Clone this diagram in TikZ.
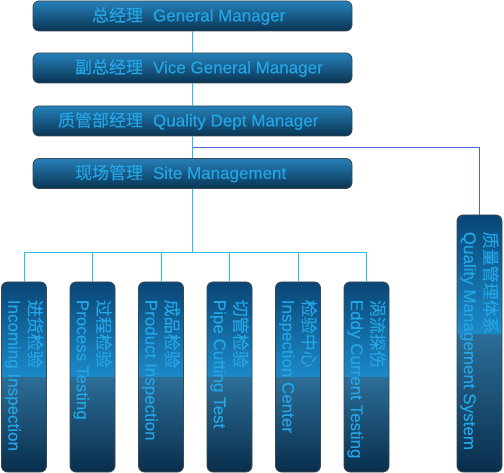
\documentclass[tikz,border=0pt]{standalone}
\usepackage{fontspec}
\setmainfont{Liberation Sans}[FakeBold=0.35]
\newfontfamily\cjk{Noto Sans CJK SC}[FakeBold=0.3]
\usetikzlibrary{calc}

\definecolor{txtblue}{RGB}{36,164,228}
\definecolor{linecyan}{RGB}{40,190,240}
\definecolor{lineblue}{RGB}{70,105,200}
\definecolor{rimgray}{RGB}{60,72,82}
\definecolor{htop}{RGB}{38,128,185}
\definecolor{hmid}{RGB}{14,82,130}
\definecolor{hbot}{RGB}{9,52,82}
\definecolor{vtop}{RGB}{10,70,118}
\definecolor{vmid}{RGB}{28,138,200}
\definecolor{vlow}{RGB}{44,110,152}
\definecolor{vbot}{RGB}{9,46,76}

\pgfdeclareverticalshading{vsplit}{100bp}{color(0bp)=(vbot); color(25bp)=(vbot);
    color(50bp)=(vlow); color(50.01bp)=(vmid); color(75bp)=(vtop); color(100bp)=(vtop)}
\pgfdeclareverticalshading{vsplitlong}{100bp}{color(0bp)=(vbot); color(25bp)=(vbot);
    color(52bp)=(vlow); color(52.01bp)=(vmid); color(75bp)=(vtop); color(100bp)=(vtop)}

\begin{document}
\begin{tikzpicture}[x=1pt,y=-1pt]

\tikzset{hbox/.style={draw=rimgray,line width=0.8pt,rounded corners=6pt,
    minimum width=319pt,minimum height=30pt,inner sep=0pt,
    top color=htop,middle color=hmid,bottom color=hbot,
    text=txtblue,font=\fontsize{17}{20}\selectfont}}
\tikzset{vbx/.style={draw=rimgray,line width=0.8pt,rounded corners=6pt,
    minimum width=45pt,inner sep=0pt,shading=vsplit}}
\tikzset{vtxt/.style={rotate=-90,anchor=west,align=left,inner sep=0pt,
    text=txtblue,font=\fontsize{17}{20.5}\selectfont}}
\tikzset{cline/.style={linecyan,line width=1pt}}

\useasboundingbox (0,0) rectangle (504,473);

\node[hbox] (gm) at (192.5,16) {\makebox[110pt][r]{\cjk 总经理}\hspace{10pt}\makebox[199pt][l]{General Manager}};
\node[hbox] (vgm) at (192.5,68) {\makebox[110pt][r]{\cjk 副总经理}\hspace{10pt}\makebox[199pt][l]{Vice General Manager}};
\node[hbox] (qdm) at (192.5,121) {\makebox[110pt][r]{\cjk 质管部经理}\hspace{10pt}\makebox[199pt][l]{Quality Dept Manager}};
\node[hbox] (site) at (192.5,173.5) {\makebox[110pt][r]{\cjk 现场管理}\hspace{10pt}\makebox[199pt][l]{Site Management}};

\coordinate (bus) at (0,253);

\foreach \i/\zh/\en in {1/进货检验/Incoming Inspection,2/过程检验/Process Testing,
    3/成品检验/Product Inspection,4/切管检验/Pipe Cutting Test,
    5/检验中心/Inspection Center,6/涡流探伤/Eddy Current Testing}
{
    \node[vbx,minimum height=190pt] (b\i) at ({24+68.5*(\i-1)},377) {};
    \node[vtxt] (b\i t) at ([yshift=-18pt]b\i.north) {{\cjk \zh}\\\en};
    \draw[cline] (b\i.north |- bus) -- (b\i.north);
}

\node[vbx,shading=vsplitlong,minimum height=257pt] (qms) at (479.5,343.5) {};
\node[vtxt] (qmst) at ([yshift=-17pt]qms.north) {{\cjk 质量管理体系}\\Quality Management System};

\draw[cline] (gm.south) -- (vgm.north);
\draw[cline] (vgm.south) -- (qdm.north);
\draw[cline] (qdm.south) -- (site.north);
\draw[cline] (site.south) -- (site.south |- bus);
\draw[cline] (b1.north |- bus) -- (b6.north |- bus);
\draw[lineblue,line width=1pt] ($(qdm.south)!0.5!(site.north)$) -| (qms.north);

\end{tikzpicture}
\end{document}
